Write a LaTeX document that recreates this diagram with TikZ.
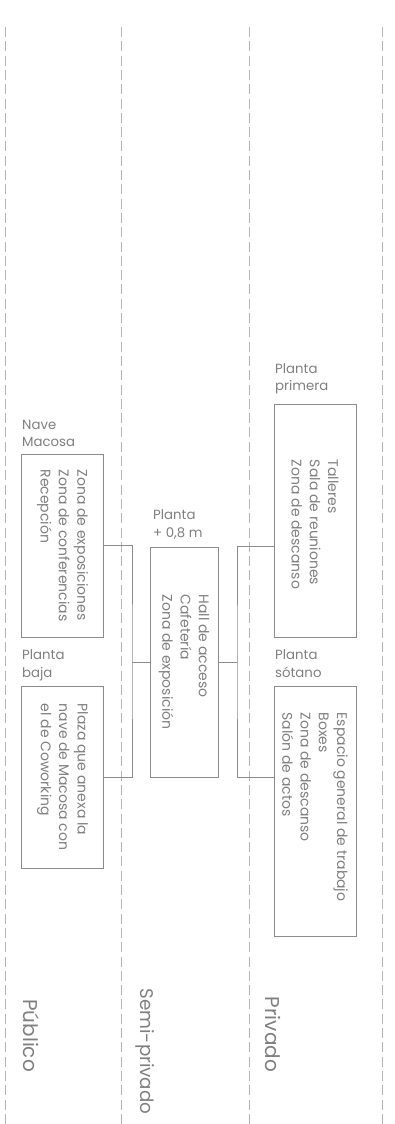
\documentclass[tikz,border=0pt]{standalone}
\usepackage{fontspec}
\setmainfont{Poppins}
\definecolor{txt}{HTML}{7F7F7F}
\definecolor{ln}{HTML}{8C8C8C}
\definecolor{dsh}{HTML}{B4B4B4}
\begin{document}
\begin{tikzpicture}[x=1pt,y=-1pt,
  dashline/.style={draw=dsh, line width=0.9pt, dash pattern=on 10pt off 4.3pt},
  box/.style={draw=ln, line width=0.9pt, inner sep=0pt, fill=none},
  conn/.style={draw=ln, line width=0.9pt},
  boxtext/.style={rotate=-90, align=left, text=txt, inner sep=0pt, font=\fontsize{14}{18.3}\selectfont},
  lab/.style={anchor=base west, align=left, text=txt, inner sep=0pt, font=\fontsize{13.3}{17.4}\selectfont},
  zone/.style={rotate=-90, anchor=base west, text=txt, inner sep=0pt, font=\fontsize{20}{24}\selectfont}]
\useasboundingbox (0,0) rectangle (394,1124);
\foreach \x in {5.5,121.5,249,382} \draw[dashline] (\x,27) -- (\x,1124);
% boxes
\node[box, minimum width=82pt, minimum height=183pt] (b1) at (62.5,545.5) {};
\node[box, minimum width=82pt, minimum height=182pt] (b2) at (62.5,777) {};
\node[box, minimum width=68pt, minimum height=230pt] (b3) at (184,662) {};
\node[box, minimum width=82pt, minimum height=233pt] (b4) at (315,520.5) {};
\node[box, minimum width=82pt, minimum height=250pt] (b5) at (315,811) {};
% box texts
\node[boxtext] (t1) at (b1) {Zona de exposiciones\\Zona de conferencias\\Recepción};
\node[boxtext] (t2) at (b2) {Plaza que anexa la\\nave de Macosa con\\el de Coworking};
\node[boxtext] (t3) at (b3) {Hall de acceso\\Cafetería\\Zona de exposición};
\node[boxtext] (t4) at ([yshift=-4pt]b4.center) {Talleres\\Sala de reuniones\\Zona de descanso};
\node[boxtext] (t5) at ([yshift=4pt]b5.center) {Espacio general de trabajo\\Boxes\\Zona de descanso\\Salón de actos};
% labels
\node[lab] (l1) at (22,446.7) {Nave\\Macosa};
\node[lab] (l2) at (22,677.3) {Planta\\baja};
\node[lab] (l3) at (153,537.3) {Planta\\+ 0,8 m};
\node[lab] (l4) at (275,390.7) {Planta\\primera};
\node[lab] (l5) at (275,677.3) {Planta\\sótano};
% connectors
\coordinate (jl) at (132,662);
\draw[conn] (b1.east) -| (jl) |- (b2.east);
\draw[conn] (jl) -- (b3.west);
\coordinate (jr) at (237,662);
\draw[conn] (b3.east) -- (jr);
\draw[conn] (b4.west |- b3.north) -| (jr) |- (b5.west |- b3.south);
% zones
\node[zone] (z1) at (23.3,999) {Público};
\node[zone, font=\fontsize{18.3}{22}\selectfont] (z2) at (140.5,988.3) {Semi-privado};
\node[zone] (z3) at (265,996.7) {Privado};
\end{tikzpicture}
\end{document}
